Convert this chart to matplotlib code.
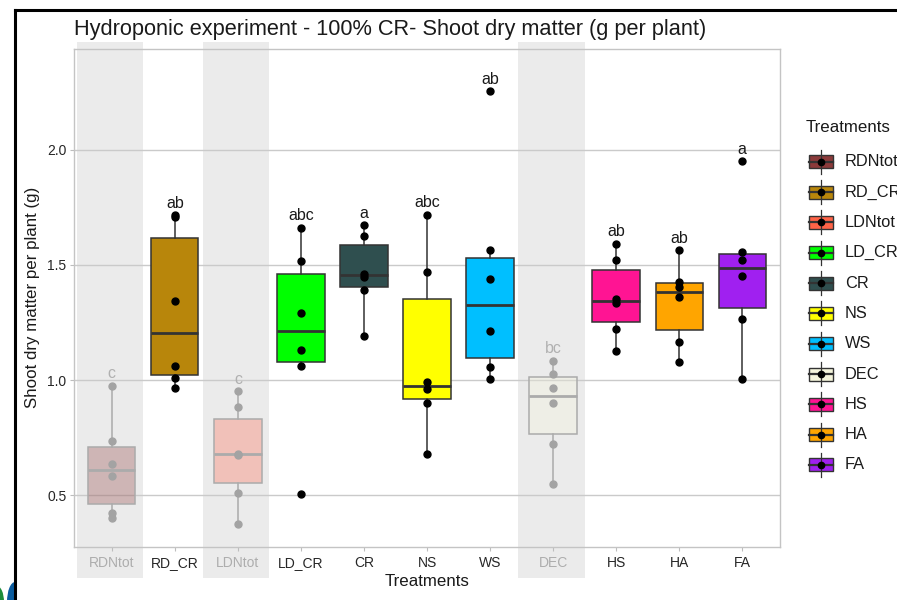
import matplotlib
matplotlib.use('Agg')
import matplotlib.pyplot as plt
import matplotlib.transforms as mtransforms
from matplotlib.colors import to_rgba
from matplotlib.patches import Rectangle, Ellipse
import numpy as np

plt.rcParams['font.family'] = ['Liberation Sans', 'DejaVu Sans']

# Shoot dry matter per plant (g), six plants per treatment
treatments = ['RDNtot', 'RD_CR', 'LDNtot', 'LD_CR', 'CR', 'NS', 'WS', 'DEC', 'HS', 'HA', 'FA']
rdntot = [0.400, 0.420, 0.584, 0.636, 0.735, 0.975]
rd_cr = [0.964, 1.010, 1.062, 1.345, 1.710, 1.716]
ldntot = [0.373, 0.510, 0.675, 0.680, 0.883, 0.952]
ld_cr = [0.504, 1.062, 1.132, 1.293, 1.517, 1.662]
cr = [1.190, 1.391, 1.449, 1.461, 1.627, 1.674]
ns = [0.677, 0.901, 0.960, 0.990, 1.471, 1.719]
ws = [1.006, 1.058, 1.213, 1.438, 1.564, 2.257]
dec = [0.549, 0.723, 0.898, 0.964, 1.027, 1.084]
hs = [1.127, 1.223, 1.335, 1.350, 1.523, 1.593]
ha = [1.080, 1.167, 1.362, 1.403, 1.427, 1.564]
fa = [1.004, 1.264, 1.453, 1.523, 1.558, 1.951]
values = [rdntot, rd_cr, ldntot, ld_cr, cr, ns, ws, dec, hs, ha, fa]

# Tukey letters
letters = ['c', 'ab', 'c', 'abc', 'a', 'abc', 'ab', 'bc', 'ab', 'ab', 'a']

colors = ['#8B3A3A', '#B8860B', '#FF6347', '#00FF00', '#2F4F4F', '#FFFF00',
          '#00BFFF', '#F5F5DC', '#FF1493', '#FFA500', '#A020F0']

# treatments shown greyed out
faded = ['RDNtot', 'LDNtot', 'DEC']

band_color = '#EBEBEB'
line_dark = '#333333'
line_faded = '#ABABAB'

fig = plt.figure(figsize=(8.97, 6), dpi=100)
ax = fig.add_axes([74 / 897, 53 / 600, 706 / 897, 498 / 600])

x = np.arange(len(treatments))

# grey bands behind the faded treatments, running past the panel
trans = mtransforms.blended_transform_factory(ax.transData, ax.transAxes)
for i, t in enumerate(treatments):
    if t in faded:
        ax.add_patch(Rectangle((i - 0.55, -0.062), 1.05, 1.076, transform=trans,
                               facecolor=band_color, edgecolor='none',
                               clip_on=False, zorder=0.3))

bp = ax.boxplot(values, positions=x, widths=0.75, patch_artist=True,
                showfliers=False, showcaps=False, whis=1.5, zorder=2)

for i, t in enumerate(treatments):
    is_faded = t in faded
    lc = line_faded if is_faded else line_dark
    box = bp['boxes'][i]
    box.set_facecolor(to_rgba(colors[i], 0.3) if is_faded else colors[i])
    box.set_edgecolor(lc)
    box.set_linewidth(1.1)
    bp['medians'][i].set_color(lc)
    bp['medians'][i].set_linewidth(2.0)
    for w in bp['whiskers'][2 * i:2 * i + 2]:
        w.set_color(lc)
        w.set_linewidth(1.1)

    pc = '#A3A3A3' if is_faded else 'black'
    ax.plot(np.full(len(values[i]), i), values[i], 'o', color=pc,
            markersize=5, zorder=3)
    ax.text(i, max(values[i]) + 0.032, letters[i], ha='center', va='baseline',
            fontsize=11.5, color='#B0B0B0' if is_faded else '#1a1a1a', zorder=4)

ax.set_xlim(-0.6, 10.6)
ax.set_ylim(0.274, 2.439)
ax.set_yticks([0.5, 1.0, 1.5, 2.0])
ax.set_yticklabels(['0.5', '1.0', '1.5', '2.0'])
ax.set_xticks(x)
ax.set_xticklabels(treatments)
for lbl, t in zip(ax.get_xticklabels(), treatments):
    lbl.set_color('#ADADAD' if t in faded else '#262626')

ax.set_axisbelow(True)
ax.yaxis.grid(True, color='#CACACA', linewidth=1.0)
ax.xaxis.grid(False)
for s in ax.spines.values():
    s.set_color('#C4C4C4')
    s.set_linewidth(1.0)
ax.tick_params(axis='both', color='#BDBDBD', length=3, width=0.8,
               labelsize=10, pad=2.5)
ax.tick_params(axis='x', pad=3.5)
ax.tick_params(axis='y', labelcolor='#262626')

fig.text(74 / 897, 1 - 29 / 600,
         'Hydroponic experiment - 100% CR- Shoot dry matter (g per plant)',
         fontsize=15.7, ha='left', va='center', color='#1a1a1a')
fig.text(33 / 897, 1 - 297 / 600, 'Shoot dry matter per plant (g)',
         rotation=90, fontsize=12.2, ha='center', va='center', color='#1a1a1a')
fig.text(427 / 897, 1 - 582 / 600, 'Treatments', fontsize=12.2,
         ha='center', va='center', color='#1a1a1a')

# overlay in pixel units for the legend, window frame and logo
ov = fig.add_axes([0, 0, 1, 1], zorder=-1)
ov.set_xlim(0, 897)
ov.set_ylim(600, 0)
ov.axis('off')

ov.text(806, 127, 'Treatments', fontsize=12.2, ha='left', va='center',
        color='#1a1a1a')
for k, t in enumerate(treatments):
    yc = 161.7 + k * 30.33
    ov.plot([821, 821], [yc - 12, yc + 12], color=line_dark, lw=0.9)
    ov.add_patch(Rectangle((809, yc - 6.5), 24, 13, facecolor=colors[k],
                           edgecolor=line_dark, linewidth=1.0))
    ov.plot([809, 833], [yc, yc], color=line_dark, lw=1.6)
    ov.plot(821, yc, 'o', color='black', markersize=4.5)
    ov.text(845, yc, t, fontsize=11.8, ha='left', va='center', color='#1a1a1a')

ov.plot([15, 15], [10, 600], color='black', lw=2.2, solid_capstyle='projecting')
ov.plot([15, 897], [10, 10], color='black', lw=2.2, solid_capstyle='projecting')

green = Ellipse((-3, 602), 14, 32, facecolor='#1E8C3A', edgecolor='none')
blue = Ellipse((15, 602), 16, 40, facecolor='#0B5C9E', edgecolor='none')
ov.add_patch(green)
ov.add_patch(blue)
clip = Rectangle((0, 560), 14, 40, transform=ov.transData)
blue.set_clip_path(clip)

fig.savefig('out.png', dpi=100)
